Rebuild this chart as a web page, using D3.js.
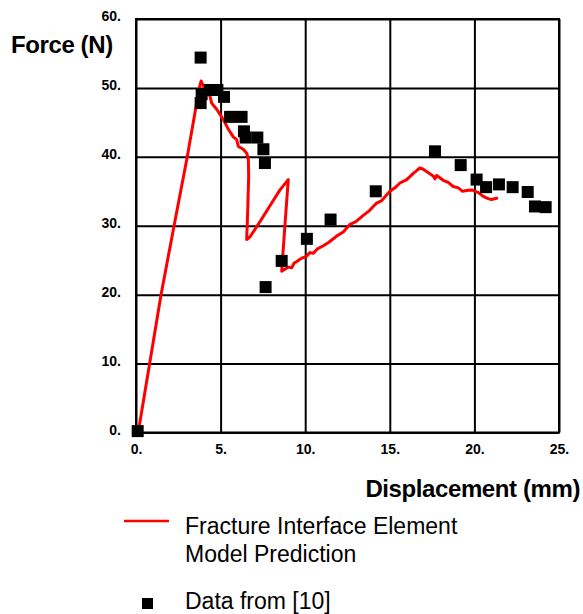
<!DOCTYPE html>
<html>
<head>
<meta charset="utf-8">
<script src="https://cdn.jsdelivr.net/npm/d3@7"></script>
<style>
  html, body { margin: 0; padding: 0; background: #fff; }
  svg { display: block; }
</style>
</head>
<body>
<svg id="chart" width="583" height="614"></svg>
<script>
// ---- data ----
const xTicks = [0, 5, 10, 15, 20, 25];
const yTicks = [0, 10, 20, 30, 40, 50, 60];
const xTickLabels = ["0.", "5.", "10.", "15.", "20.", "25."];
const yTickLabels = ["0.", "10.", "20.", "30.", "40.", "50.", "60."];

// Fracture Interface Element model prediction (displacement mm, force N)
const modelX = [0.15, 1.48, 2.25, 3.03, 3.74, 3.85, 3.98, 4.2, 4.37, 4.47, 4.77, 5.16, 5.46, 5.75, 5.95, 6.05, 6.34, 6.55, 6.64, 6.66, 6.6, 6.54,
  6.74, 7.33, 8.02, 8.51, 9.0, 8.8, 8.61,
  9.0, 9.2, 9.35, 9.5, 9.79, 10.05, 10.28, 10.48, 10.7, 11.07, 11.4, 11.86, 12.25, 12.65, 13.0, 13.43, 13.8, 14.22, 14.5, 14.82, 15.01, 15.3, 15.6, 16.0, 16.39, 16.78,
  16.98, 17.28, 17.57, 17.67, 17.77, 18.16, 18.45, 18.75, 19.05, 19.3, 19.54, 19.84, 20.24, 20.5, 20.73, 21.0, 21.32];
const modelY = [0.3, 20, 30, 40, 50, 51.0, 50.3, 49.6, 48.8, 47.8, 46.9, 45.4, 44.0, 42.9, 42.5, 41.5, 41.1, 40.5, 39.6, 37.2, 32, 28.0,
  28.4, 30.6, 33.3, 35.2, 36.7, 30, 23.4,
  24.0, 23.9, 24.6, 24.8, 25.3, 25.5, 26.1, 26.0, 26.6, 27.1, 27.6, 28.5, 29.1, 30.2, 30.6, 31.5, 32.2, 33.3, 33.6, 34.5, 35.0, 35.5, 36.2, 36.7, 37.6, 38.4,
  38.2, 37.7, 37.2, 36.8, 37.3, 36.6, 36.3, 35.7, 35.5, 35.0, 35.1, 35.2, 34.8, 34.3, 34.0, 33.8, 34.0];

// Data from [10]
const dataX = [0.1, 3.82, 3.82, 3.88, 4.37, 4.81, 5.2, 5.56, 6.24, 6.38, 6.48, 7.17, 7.53, 7.62, 7.66, 8.61, 10.1, 11.5, 14.17,
  17.67, 19.19, 20.13, 20.69, 21.45, 22.26, 23.15, 23.58, 24.21];
const dataY = [0.2, 54.4, 47.8, 49.1, 49.7, 49.7, 48.7, 45.8, 45.8, 43.7, 42.8, 42.8, 41.1, 39.1, 21.1, 24.9, 28.1, 30.9, 35.0,
  40.8, 38.8, 36.7, 35.6, 36.0, 35.6, 34.9, 32.8, 32.7];

const legendLabels = ["Fracture Interface Element", "Model Prediction", "Data from [10]"];

// ---- layout ----
const svg = d3.select("#chart");
const pL = 136, pR = 559, pT = 19, pB = 432.5;
const x = d3.scaleLinear().domain([0, 25]).range([pL, pR]);
const y = d3.scaleLinear().domain([0, 60]).range([pB, pT]);
const font = "'Liberation Sans', Arial, Helvetica, sans-serif";

svg.append("rect").attr("width", 583).attr("height", 614).attr("fill", "#fff");

// grid + axes
const xAxis = svg.append("g")
  .attr("transform", `translate(0,${pB})`)
  .call(d3.axisBottom(x).tickValues(xTicks).tickSize(-(pB - pT)).tickPadding(12)
    .tickFormat((d, i) => xTickLabels[i]));
const yAxis = svg.append("g")
  .attr("transform", `translate(${pL},0)`)
  .call(d3.axisLeft(y).tickValues(yTicks).tickSize(-(pR - pL)).tickPadding(15)
    .tickFormat((d, i) => yTickLabels[i]));

[xAxis, yAxis].forEach(g => {
  g.select(".domain").remove();
  g.selectAll(".tick line").attr("stroke", "#000").attr("stroke-width", 2);
  g.selectAll(".tick text").attr("fill", "#000")
    .style("font-family", font).style("font-weight", "bold").style("font-size", "14px");
});
yAxis.selectAll(".tick text").attr("dy", "0.12em");

svg.append("rect").attr("x", pL).attr("y", pT).attr("width", pR - pL).attr("height", pB - pT)
  .attr("fill", "none").attr("stroke", "#000").attr("stroke-width", 2);

// model line
const line = d3.line().x((d, i) => x(modelX[i])).y((d, i) => y(modelY[i]));
svg.append("path").datum(modelX)
  .attr("d", line).attr("fill", "none").attr("stroke", "#ff0000")
  .attr("stroke-width", 3).attr("stroke-linejoin", "round").attr("stroke-linecap", "round");

// data squares
const sq = 12;
svg.append("g").selectAll("rect").data(dataX).join("rect")
  .attr("x", (d, i) => x(dataX[i]) - sq / 2)
  .attr("y", (d, i) => y(dataY[i]) - sq / 2)
  .attr("width", sq).attr("height", sq).attr("fill", "#000");

// axis titles
svg.append("text").attr("x", 11).attr("y", 53)
  .style("font-family", font).style("font-weight", "bold").style("font-size", "24px")
  .style("letter-spacing", "-0.4px").text("Force (N)");
svg.append("text").attr("x", 580).attr("y", 497).attr("text-anchor", "end")
  .style("font-family", font).style("font-weight", "bold").style("font-size", "24px")
  .style("letter-spacing", "-0.4px").text("Displacement (mm)");

// legend
svg.append("line").attr("x1", 124).attr("x2", 169).attr("y1", 521).attr("y2", 521)
  .attr("stroke", "#ff0000").attr("stroke-width", 2.5);
svg.append("text").attr("x", 185).attr("y", 534)
  .style("font-family", font).style("font-size", "23px").text(legendLabels[0]);
svg.append("text").attr("x", 185).attr("y", 562)
  .style("font-family", font).style("font-size", "23px").text(legendLabels[1]);
svg.append("rect").attr("x", 142).attr("y", 598).attr("width", 11).attr("height", 11).attr("fill", "#000");
svg.append("text").attr("x", 185).attr("y", 609)
  .style("font-family", font).style("font-size", "23px").text(legendLabels[2]);
</script>
</body>
</html>
